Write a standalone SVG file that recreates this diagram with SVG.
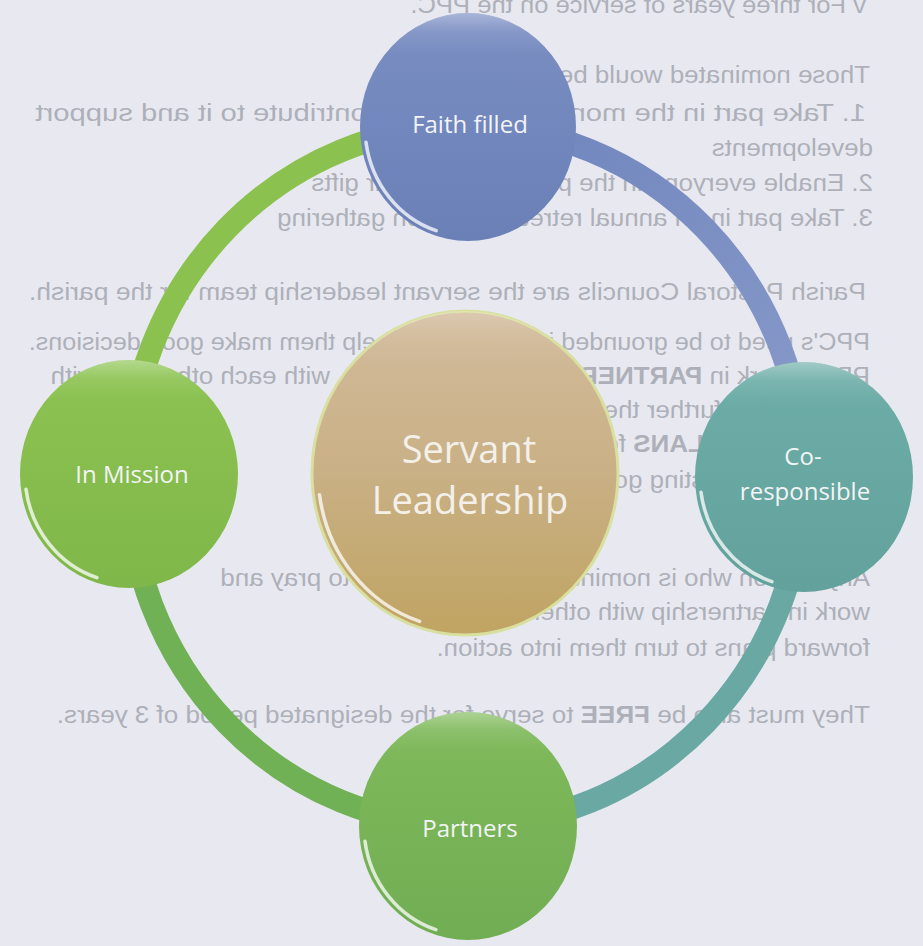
<svg xmlns="http://www.w3.org/2000/svg" width="923" height="946" viewBox="0 0 923 946">
  <style>
    .bg { font-family: "Liberation Sans", Arial, sans-serif; font-size: 24px; fill: #aeb0b9; }
    .lbl { font-family: "Open Sans", "Noto Sans", sans-serif; fill: #f2f4f6; text-anchor: middle; }
    .small { font-size: 24px; }
    .big { font-size: 38px; fill: #f3f0ea; }
    .ring { fill: none; stroke-width: 23; stroke-linecap: butt; }
    .rim { fill: none; stroke: #ffffff; stroke-width: 3.5; stroke-linecap: round; opacity: 0.75; }
  </style>
  <defs>
    <linearGradient id="faithFill" x1="0" y1="0" x2="0" y2="1">
      <stop offset="0" stop-color="#7a8ec3"/>
      <stop offset="1" stop-color="#6a80b6"/>
    </linearGradient>
    <linearGradient id="coFill" x1="0" y1="0" x2="0" y2="1">
      <stop offset="0" stop-color="#6eaea8"/>
      <stop offset="1" stop-color="#62a19c"/>
    </linearGradient>
    <linearGradient id="missionFill" x1="0" y1="0" x2="0" y2="1">
      <stop offset="0" stop-color="#8cc351"/>
      <stop offset="1" stop-color="#80b74a"/>
    </linearGradient>
    <linearGradient id="partnersFill" x1="0" y1="0" x2="0" y2="1">
      <stop offset="0" stop-color="#80ba5b"/>
      <stop offset="1" stop-color="#71ad53"/>
    </linearGradient>
    <linearGradient id="servantFill" x1="0" y1="0" x2="0" y2="1">
      <stop offset="0" stop-color="#d2bb9c"/>
      <stop offset="0.5" stop-color="#c9b085"/>
      <stop offset="1" stop-color="#c0a462"/>
    </linearGradient>
    <linearGradient id="gloss" x1="0" y1="0" x2="0" y2="1">
      <stop offset="0" stop-color="#ffffff" stop-opacity="0.35"/>
      <stop offset="0.08" stop-color="#ffffff" stop-opacity="0.1"/>
      <stop offset="0.18" stop-color="#ffffff" stop-opacity="0"/>
    </linearGradient>
    <linearGradient id="blueArc" gradientUnits="userSpaceOnUse" x1="560" y1="150" x2="800" y2="400">
      <stop offset="0" stop-color="#7388bf"/>
      <stop offset="1" stop-color="#8598c8"/>
    </linearGradient>
  </defs>

  <rect x="0" y="0" width="923" height="946" fill="#e8e9f0"/>

  <g id="background-text" class="bg" transform="translate(870,0) scale(-1.08,1)">
    <text x="3.7" y="13" textLength="422" lengthAdjust="spacingAndGlyphs">v For three years of service on the PPC.</text>
    <text x="0" y="83">Those nominated would be asked to:</text>
    <text x="3.7" y="121" textLength="769" lengthAdjust="spacingAndGlyphs">1. Take part in the monthly meetings, contribute to it and support</text>
    <text x="-2.8" y="156">developments</text>
    <text x="-2.8" y="191">2. Enable everyone in the parish to use their gifts</text>
    <text x="-2.8" y="226">3. Take part in an annual retreat/formation gathering</text>
    <text x="3.7" y="300" textLength="775" lengthAdjust="spacingAndGlyphs">Parish Pastoral Councils are the servant leadership team for the parish.</text>
    <text x="0" y="350" textLength="779" lengthAdjust="spacingAndGlyphs">PPC's need to be grounded in <tspan font-weight="bold">PRAYER</tspan> to help them make good decisions.</text>
    <text x="0" y="384">PPC's work in <tspan font-weight="bold">PARTNERSHIP</tspan> with the parish, with each other and with</text>
    <text x="0" y="418">the clergy to further the mission of the parish.</text>
    <text x="0" y="452">PPC's make <tspan font-weight="bold">PLANS</tspan> for the future of the parish,</text>
    <text x="0" y="488">building on existing good practice.</text>
    <text x="0" y="586">Any person who is nominated <tspan font-weight="bold">MUST</tspan> be able to pray and</text>
    <text x="0" y="620">work in partnership with others and bring</text>
    <text x="0" y="656">forward plans to turn them into action.</text>
    <text x="0" y="723" textLength="753" lengthAdjust="spacingAndGlyphs">They must also be <tspan font-weight="bold">FREE</tspan> to serve for the designated period of 3 years.</text>
  </g>

  <g id="connectors">
    <path class="ring" stroke="#8bc14f" d="M466,126 A338,350 0 0 0 128,476"/>
    <path class="ring" stroke="url(#blueArc)" d="M466,126 A338,350 0 0 1 804,476"/>
    <path class="ring" stroke="#69a8a3" d="M804,476 A338,350 0 0 1 466,826"/>
    <path class="ring" stroke="#71b156" d="M128,476 A338,350 0 0 0 466,826"/>
  </g>

  <g id="node-faith-filled">
    <ellipse cx="468" cy="127" rx="108" ry="114" fill="url(#faithFill)"/>
    <ellipse cx="468" cy="127" rx="108" ry="114" fill="url(#gloss)"/>
    <path class="rim" d="M366,142.2 A103,109 0 0 0 436.2,230.7"/>
    <text class="lbl small" x="470" y="133">Faith filled</text>
  </g>

  <g id="node-co-responsible">
    <ellipse cx="804" cy="477" rx="109" ry="115" fill="url(#coFill)"/>
    <ellipse cx="804" cy="477" rx="109" ry="115" fill="url(#gloss)"/>
    <path class="rim" d="M701,492.3 A104,110 0 0 0 771.9,581.6"/>
    <text class="lbl small" x="803" y="465">Co-</text>
    <text class="lbl small" x="805" y="500">responsible</text>
  </g>

  <g id="node-in-mission">
    <ellipse cx="129" cy="474" rx="109" ry="114" fill="url(#missionFill)"/>
    <ellipse cx="129" cy="474" rx="109" ry="114" fill="url(#gloss)"/>
    <path class="rim" d="M26,489.2 A104,109 0 0 0 96.9,577.7"/>
    <text class="lbl small" x="132" y="483">In Mission</text>
  </g>

  <g id="node-partners">
    <ellipse cx="468" cy="826" rx="109" ry="114" fill="url(#partnersFill)"/>
    <ellipse cx="468" cy="826" rx="109" ry="114" fill="url(#gloss)"/>
    <path class="rim" d="M365,841.2 A104,109 0 0 0 435.9,929.7"/>
    <text class="lbl small" x="470" y="837">Partners</text>
  </g>

  <g id="node-servant-leadership">
    <ellipse cx="465" cy="473" rx="153" ry="162" fill="url(#servantFill)" stroke="#d8df9f" stroke-width="3"/>
    <ellipse cx="465" cy="473" rx="153" ry="162" fill="url(#gloss)" opacity="0.6"/>
    <path class="rim" d="M319.5,494.7 A147,156 0 0 0 419.6,621.4"/>
    <text class="lbl big" x="469" y="463">Servant</text>
    <text class="lbl big" x="470" y="514">Leadership</text>
  </g>
</svg>
